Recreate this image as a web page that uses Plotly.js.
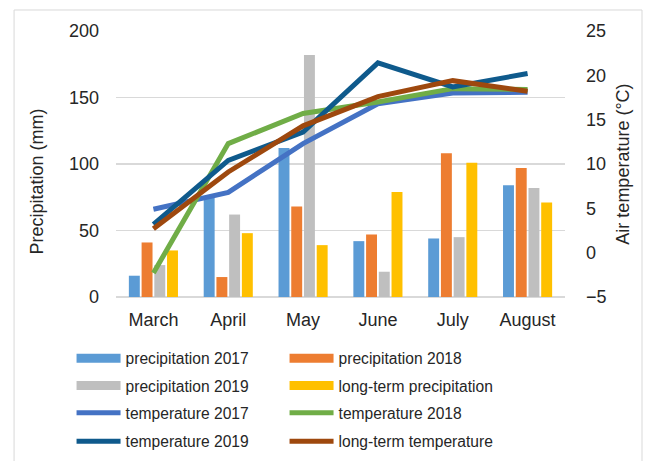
<!DOCTYPE html>
<html>
<head>
<meta charset="utf-8">
<script src="https://cdn.plot.ly/plotly-3.0.1.min.js"></script>
<style>html,body{margin:0;padding:0;background:#fff;}#chart{width:647px;height:461px;}</style>
</head>
<body>
<div id="chart"></div>
<script>
const months = ["March", "April", "May", "June", "July", "August"];
const precip2017 = [16, 75, 112, 42, 44, 84];
const precip2018 = [41, 15, 68, 47, 108, 97];
const precip2019 = [24, 62, 182, 19, 45, 82];
const precipLongTerm = [35, 48, 39, 79, 101, 71];
const temp2017 = [4.9, 6.8, 12.3, 16.8, 18.0, 18.1];
const temp2018 = [-2.3, 12.3, 15.7, 17.0, 18.5, 18.4];
const temp2019 = [3.2, 10.4, 13.6, 21.4, 18.7, 20.2];
const tempLongTerm = [2.7, 9.1, 14.3, 17.6, 19.4, 18.2];
const leftTicks = [0, 50, 100, 150, 200];
const rightTicks = [-5, 0, 5, 10, 15, 20, 25];

const barSeries = [
  {name: "precipitation 2017", y: precip2017, color: "#5B9BD5", legend: "legend"},
  {name: "precipitation 2018", y: precip2018, color: "#ED7D31", legend: "legend"},
  {name: "precipitation 2019", y: precip2019, color: "#BFBFBF", legend: "legend2"},
  {name: "long-term precipitation", y: precipLongTerm, color: "#FFC000", legend: "legend2"}
];
const lineSeries = [
  {name: "temperature 2017", y: temp2017, color: "#4472C4", legend: "legend3"},
  {name: "temperature 2018", y: temp2018, color: "#70AD47", legend: "legend3"},
  {name: "temperature 2019", y: temp2019, color: "#0F5A8C", legend: "legend4"},
  {name: "long-term temperature", y: tempLongTerm, color: "#9E480E", legend: "legend4"}
];

const traces = [];
barSeries.forEach(s => {
  traces.push({type: "bar", x: months, y: s.y, name: s.name, marker: {color: s.color, line: {width: 0}},
    xaxis: "x", yaxis: "y", showlegend: false, legendgroup: s.name, hoverinfo: "y"});
});
// legend keys for bars (wide colour blocks as in the reference)
barSeries.forEach(s => {
  traces.push({type: "scatter", mode: "lines", x: [null], y: [null], name: s.name, legendgroup: s.name,
    legend: s.legend, line: {color: s.color, width: 9}, xaxis: "x", yaxis: "y", showlegend: true});
});
lineSeries.forEach(s => {
  traces.push({type: "scatter", mode: "lines", x: months, y: s.y, name: s.name, legend: s.legend,
    line: {color: s.color, width: 5}, xaxis: "x", yaxis: "y2"});
});

const font = {family: "Liberation Sans, Arial, sans-serif", size: 18, color: "#262626"};
const legendFont = {family: "Liberation Sans, Arial, sans-serif", size: 15.6, color: "#262626"};
function legendRow(yPaper) {
  return {orientation: "h", x: -0.099, xanchor: "left", y: yPaper, yanchor: "middle",
    entrywidth: 154, entrywidthmode: "pixels", font: legendFont, traceorder: "normal",
    bgcolor: "rgba(0,0,0,0)", itemwidth: 44};
}
// trailing no-break spaces (kept by a zero-width end mark) shift the rotated title downward, as in the reference
const leftTitle = "Precipitation (mm)" + "\u00A0".repeat(7) + "\u200B";
const layout = {
  width: 647, height: 461,
  margin: {l: 116, r: 82, t: 31, b: 164, pad: 0, autoexpand: false},
  paper_bgcolor: "#fff", plot_bgcolor: "#fff",
  font: font,
  barmode: "group", bargap: 0.32, bargroupgap: 0.14,
  xaxis: {type: "category", showgrid: false, zeroline: false, showline: false, ticks: "",
    tickfont: font, ticklabelstandoff: 10, fixedrange: true},
  yaxis: {range: [0, 200], tickvals: leftTicks, showgrid: true, gridcolor: "#D9D9D9", gridwidth: 1.3,
    zeroline: true, zerolinecolor: "#D9D9D9", zerolinewidth: 1.3, showline: false, ticks: "",
    tickfont: font, ticklabelstandoff: 16,
    title: {text: leftTitle, font: font, standoff: 20}, automargin: false},
  yaxis2: {overlaying: "y", side: "right", range: [-5, 25], tickvals: rightTicks, showgrid: false,
    zeroline: false, showline: false, ticks: "", tickfont: font, ticklabelstandoff: 20,
    title: {text: "Air temperature (°C)", font: font, standoff: 10}, automargin: false},
  legend: legendRow(-0.2312),
  legend2: legendRow(-0.3338),
  legend3: legendRow(-0.4368),
  legend4: legendRow(-0.5432),
  shapes: [{type: "rect", xref: "paper", yref: "paper", x0: -0.227, x1: 1.1715, y0: -0.62, y1: 1.079,
    line: {color: "#D9D9D9", width: 1}, fillcolor: "rgba(0,0,0,0)", layer: "below"}],
  showlegend: true
};
Plotly.newPlot("chart", traces, layout, {displayModeBar: false, staticPlot: true});
</script>
</body>
</html>
